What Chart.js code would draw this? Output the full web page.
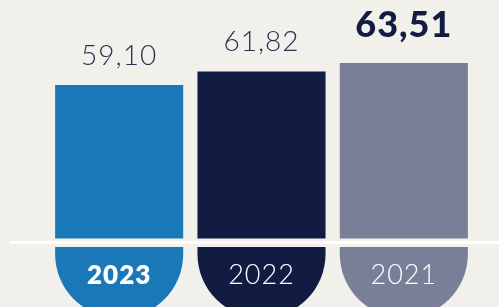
<!DOCTYPE html>
<html>
<head>
<meta charset="utf-8">
<script src="https://cdn.jsdelivr.net/npm/chart.js@4/dist/chart.umd.min.js"></script>
<style>
    html, body { margin: 0; padding: 0; background: #f1f0eb; overflow: hidden; }
    #wrap { width: 499px; height: 307px; position: relative; }
</style>
</head>
<body>
<div id="wrap"><canvas id="yearsChart"></canvas></div>
<script>
// дані
const years = ['2023', '2022', '2021'];
const values = [59.10, 61.82, 63.51];

const barColors = ['#1a78b9', '#121c42', '#7a7f98'];

// шкала значень (низ шкали не з нуля)
const Y_MIN = 14.6;
const Y_MAX = 76.14;
const BAR_BASE = 28.33;
const LINE_VALUE = 27.53;
const CAP_TOP = 38.05;
const CAP_BOTTOM = 12.4;

const fmt = v => v.toFixed(2).replace('.', ',');

const labelsPlugin = {
    id: 'labels',
    afterDatasetsDraw(chart) {
        const ctx = chart.ctx;
        const y = chart.scales.y;
        const bars = chart.getDatasetMeta(0).data;

        // біла лінія
        const ly = y.getPixelForValue(LINE_VALUE);
        ctx.save();
        ctx.strokeStyle = '#ffffff';
        ctx.lineWidth = 3;
        ctx.beginPath();
        ctx.moveTo(10, ly);
        ctx.lineTo(chart.width, ly);
        ctx.stroke();

        ctx.textAlign = 'center';
        ctx.textBaseline = 'alphabetic';
        ctx.letterSpacing = '1px';
        bars.forEach((bar, i) => {
            const last = i === bars.length - 1;
            ctx.fillStyle = last ? '#121c42' : '#2a3150';
            ctx.font = last ? '900 36px Lato' : '300 28px Lato';
            ctx.fillText(fmt(values[i]), bar.x, bar.y - (last ? 26 : 20));

            ctx.fillStyle = '#ffffff';
            ctx.font = i === 0 ? '800 26px Lato' : '300 27px Lato';
            ctx.fillText(years[i], bar.x, 284);
        });
        ctx.restore();
    }
};

new Chart(document.getElementById('yearsChart'), {
    type: 'bar',
    data: {
        labels: years,
        datasets: [
            {
                data: values,
                base: BAR_BASE,
                backgroundColor: barColors,
                borderWidth: 0,
                categoryPercentage: 1,
                barPercentage: 0.9
            },
            {
                data: years.map(() => [CAP_TOP, CAP_BOTTOM]),
                backgroundColor: barColors,
                borderWidth: 0,
                borderSkipped: false,
                borderRadius: { topLeft: 0, topRight: 0, bottomLeft: 64, bottomRight: 64 },
                categoryPercentage: 1,
                barPercentage: 0.9,
                grouped: false,
                clip: { left: 0, right: 0, top: -247, bottom: 20 }
            }
        ]
    },
    options: {
        responsive: true,
        maintainAspectRatio: false,
        animation: false,
        layout: { padding: { left: 48, right: 24, top: 0, bottom: 0 } },
        plugins: {
            legend: { display: false },
            tooltip: { enabled: false }
        },
        scales: {
            x: { display: false },
            y: { display: false, min: Y_MIN, max: Y_MAX }
        }
    },
    plugins: [labelsPlugin]
});
</script>
</body>
</html>
